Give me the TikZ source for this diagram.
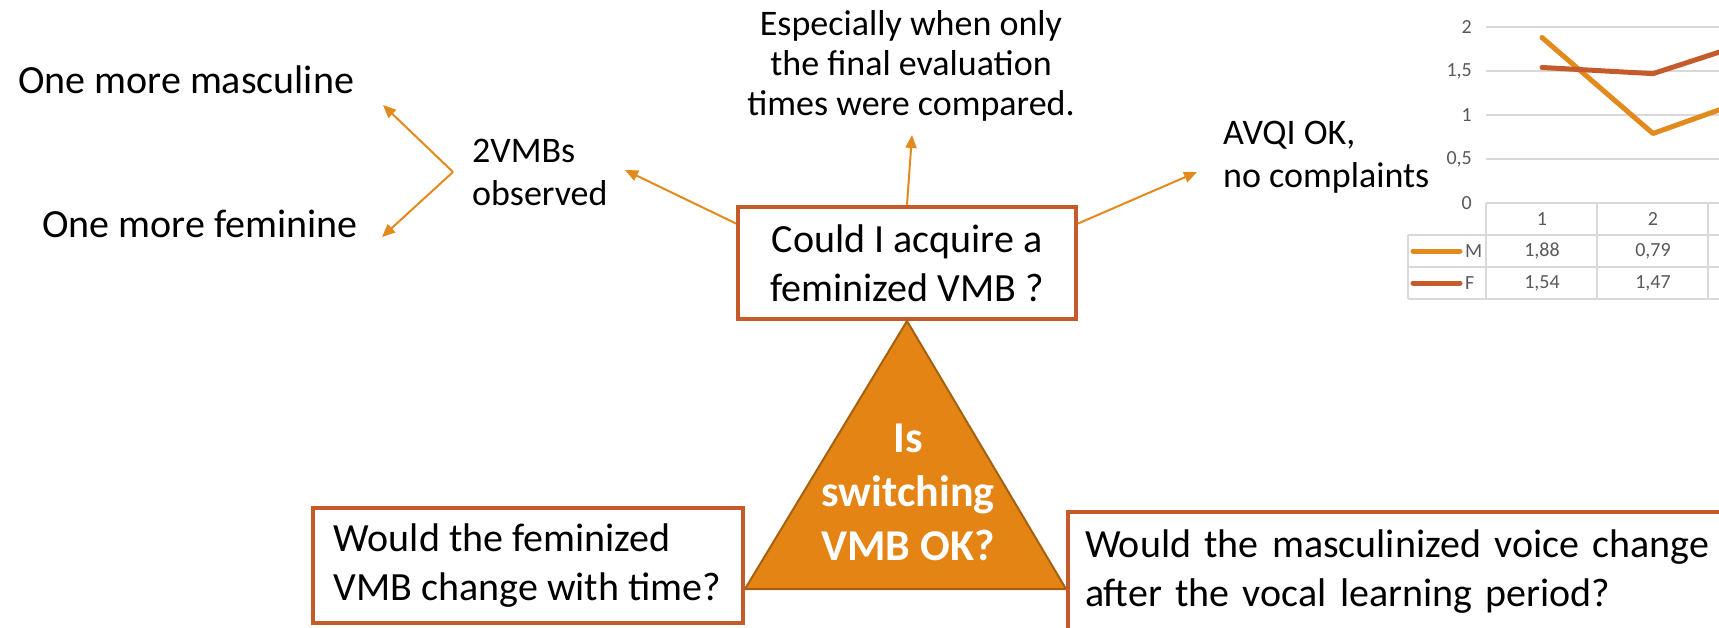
\documentclass[tikz,border=0pt]{standalone}
\usepackage{fontspec}
\setmainfont{Carlito}
\usepackage{xcolor}
\usepackage{tikz}
\usetikzlibrary{arrows.meta}
\definecolor{bg}{HTML}{FFFFFF}
\definecolor{ink}{HTML}{000000}
\definecolor{rust}{HTML}{C55A2B}
\definecolor{amber}{HTML}{E38A1C}
\definecolor{trifill}{HTML}{E38414}
\definecolor{triedge}{HTML}{A5610F}
\definecolor{grid}{HTML}{D9D9D9}
\definecolor{tick}{HTML}{595959}
\tikzset{
  big/.style={text=ink, font=\fontsize{40}{49}\selectfont, inner sep=0pt},
  mid/.style={text=ink, font=\fontsize{36}{43}\selectfont, inner sep=0pt},
  qbox/.style={draw=rust, line width=4pt, fill=white, inner sep=0pt, text=ink, font=\fontsize{40}{49}\selectfont},
  link/.style={draw=amber, line width=2pt, -{Triangle[length=13pt,width=11pt]}},
  wedge/.style={fill=trifill, draw=triedge, line width=2pt},
  gridl/.style={draw=grid, line width=1.5pt},
  small/.style={text=tick, font=\fontsize{20}{24}\selectfont, inner sep=0pt},
  serM/.style={draw=amber, line width=5pt, line join=round, line cap=round},
  serF/.style={draw=rust, line width=5pt, line join=round, line cap=round},
}

\begin{document}
\begin{tikzpicture}[x=1pt, y=-1pt]
  \useasboundingbox (0,0) rectangle (1719,627);
  \clip (0,0) rectangle (1719,627);
  \fill[bg] (0,0) rectangle (1719,627);

  % line chart, runs off the right edge
  \foreach \v/\t in {0/0, 0.5/{0,5}, 1/1, 1.5/{1,5}, 2/2}
    \node[small, anchor=east] at (1472, 203-88*\v) {\t};
  \foreach \v in {0.5,1,1.5,2}
    \draw[gridl] (1486, 203-88*\v) -- (1760, 203-88*\v);
  \draw[gridl] (1486,203) -- (1800,203);
  \foreach \y in {235,267,299}
    \draw[gridl] (1408,\y) -- (1800,\y);
  \draw[gridl] (1408,235) -- (1408,299);
  \foreach \x in {1486,1597,1708}
    \draw[gridl] (\x,203) -- (\x,299);
  \node[small] at (1542,219) {1};
  \node[small] at (1653,219) {2};
  \draw[serM] (1413,251) -- (1460,251);
  \node[small, anchor=west] at (1465,251) {M};
  \node[small] at (1542,251) {1,88};
  \node[small] at (1653,251) {0,79};
  \draw[serF] (1413,283) -- (1460,283);
  \node[small, anchor=west] at (1465,283) {F};
  \node[small] at (1542,283) {1,54};
  \node[small] at (1653,283) {1,47};
  \draw[serM] (1542,203-88*1.88) -- (1653,203-88*0.79) -- (1764,203-88*1.24);
  \draw[serF] (1542,203-88*1.54) -- (1653,203-88*1.47) -- (1764,203-88*1.88);

  % central question and the triangle under it
  \node[qbox, minimum width=338pt, minimum height=112pt, align=center] (acq) at (907,263) {Could I acquire a\\feminized VMB ?};
  \coordinate (tl) at (745,589);
  \coordinate (tr) at (1066,589);
  \draw[wedge] (acq.south) -- (tr) -- (tl) -- cycle;
  \node[text=white, font=\bfseries\fontsize{44}{54}\selectfont, align=center, inner sep=0pt] (ask) at (908,492) {Is\\switching\\VMB OK?};

  \node[qbox, minimum width=430pt, minimum height=115pt, align=left] (time) at (527.5,565.5) {Would the feminized\\VMB change with time?};
  \node[qbox, minimum width=692pt, minimum height=119pt, text width=658pt, align=left] (later) at (1414,571.5) {Would the masculinized voice change\\after the vocal learning period?};

  % answers around the question
  \node[big, anchor=base west] (masc) at (18,93) {One more masculine};
  \node[big, anchor=base west] (fem) at (42,237) {One more feminine};
  \node[mid, anchor=west, align=left] (two) at (472,172) {2VMBs\\observed};
  \node[mid, align=center, font=\fontsize{36}{40}\selectfont] (final) at (911,66) {Especially when only\\the final evaluation\\times were compared.};
  \node[mid, anchor=west, align=left] (avqi) at (1223,157) {AVQI OK,\\no complaints};

  \coordinate (fork) at (453,172);
  \coordinate (mtip) at (383,105);
  \coordinate (ftip) at (382,237);
  \coordinate (vtip) at (625,170);
  \coordinate (etip) at (912,135);
  \coordinate (atip) at (1197,172);
  \draw[link] (fork) -- (mtip);
  \draw[link] (fork) -- (ftip);
  \draw[link] (acq.167) -- (vtip);
  \draw[link] (acq.north) -- (etip);
  \draw[link] (acq.13.5) -- (atip);
\end{tikzpicture}
\end{document}
